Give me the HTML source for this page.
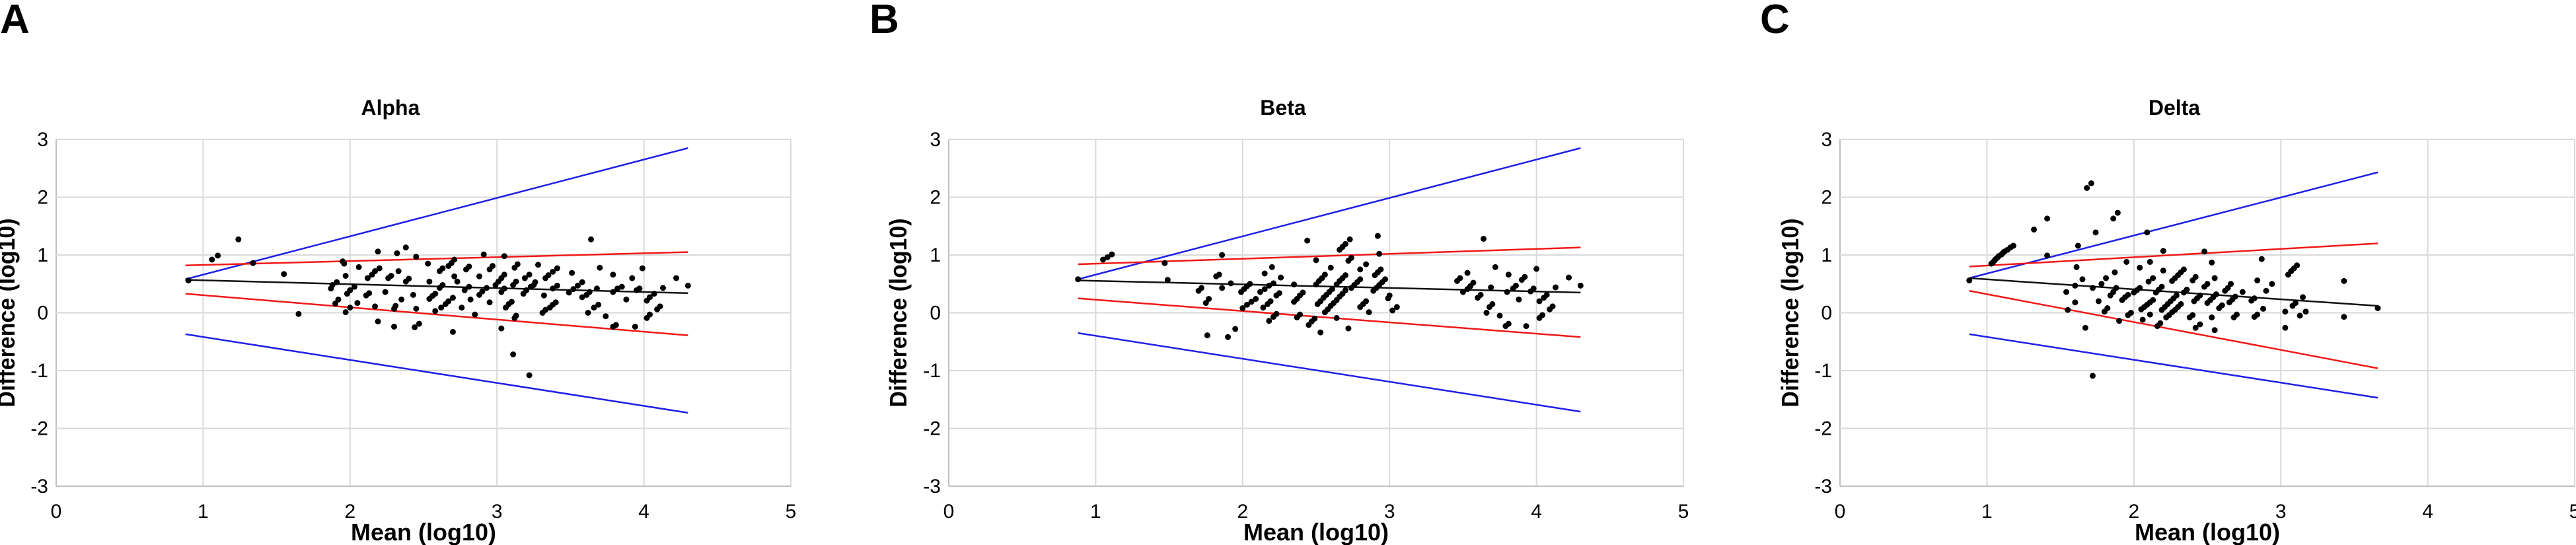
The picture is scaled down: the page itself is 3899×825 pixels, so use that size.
<!DOCTYPE html>
<html><head><meta charset="utf-8">
<style>
html,body{margin:0;padding:0;background:#fff;}
svg{display:block;}
text{font-family:"Liberation Sans Narrow","Liberation Sans",sans-serif;fill:#000;}
</style></head>
<body>
<svg id="chart" width="3899" height="825" viewBox="0 0 3899 825" xmlns="http://www.w3.org/2000/svg"></svg>
<script>
const xTicks = [0,1,2,3,4,5];
const yTicks = [-3,-2,-1,0,1,2,3];
const panelLetters = ["A","B","C"];
const panelTitles = ["Alpha","Beta","Delta"];
// regression lines: [x0, x1, y0, y1]
const alphaLines = {blueUp:[0.88,4.3,0.58,2.85],blueLow:[0.88,4.3,-0.37,-1.73],redUp:[0.88,4.3,0.82,1.05],redLow:[0.88,4.3,0.33,-0.39],mean:[0.88,4.3,0.57,0.34]};
const betaLines = {blueUp:[0.88,4.3,0.58,2.85],blueLow:[0.88,4.3,-0.35,-1.71],redUp:[0.88,4.3,0.84,1.13],redLow:[0.88,4.3,0.25,-0.42],mean:[0.88,4.3,0.56,0.35]};
const deltaLines = {blueUp:[0.88,3.66,0.6,2.43],blueLow:[0.88,3.66,-0.37,-1.47],redUp:[0.88,3.66,0.8,1.2],redLow:[0.88,3.66,0.38,-0.96],mean:[0.88,3.66,0.6,0.12]};
const alphaPoints = [[0.90,0.56],[1.06,0.92],[1.10,0.99],[1.24,1.27],[1.34,0.86],[1.55,0.67],[1.65,-0.02],[1.87,0.42],[1.88,0.48],[1.91,0.53],[1.95,0.89],[1.96,0.85],[1.90,0.16],[1.92,0.23],[1.97,0.01],[2.00,0.09],[1.97,0.64],[1.98,0.33],[2.00,0.39],[2.03,0.45],[2.05,0.17],[2.06,0.79],[2.11,0.30],[2.13,0.34],[2.12,0.60],[2.15,0.66],[2.17,0.72],[2.20,0.77],[2.17,0.11],[2.19,-0.15],[2.19,1.06],[2.24,0.36],[2.26,0.60],[2.28,0.64],[2.30,-0.24],[2.30,0.07],[2.31,0.12],[2.32,1.03],[2.33,0.72],[2.35,0.23],[2.38,1.13],[2.38,0.54],[2.40,0.59],[2.43,0.31],[2.44,-0.25],[2.47,-0.19],[2.45,0.97],[2.45,0.07],[2.53,0.85],[2.54,0.24],[2.56,0.29],[2.58,0.33],[2.54,0.54],[2.58,0.03],[2.61,0.43],[2.63,0.48],[2.61,0.72],[2.63,0.77],[2.62,0.09],[2.65,0.15],[2.67,0.20],[2.70,0.26],[2.67,0.81],[2.69,0.86],[2.71,0.92],[2.70,-0.33],[2.71,0.63],[2.73,0.54],[2.76,0.09],[2.78,0.39],[2.81,0.45],[2.79,0.75],[2.81,0.80],[2.82,0.23],[2.85,-0.03],[2.88,0.63],[2.88,0.31],[2.90,0.37],[2.93,0.43],[2.91,1.01],[2.95,0.18],[2.95,0.75],[2.97,0.81],[2.99,0.48],[3.01,0.54],[3.03,0.60],[3.05,0.66],[3.03,-0.27],[3.03,0.36],[3.05,0.42],[3.05,0.98],[3.06,0.09],[3.08,0.15],[3.10,0.19],[3.11,0.48],[3.13,0.54],[3.11,-0.72],[3.12,-0.09],[3.13,-0.05],[3.12,0.78],[3.14,0.84],[3.18,0.33],[3.20,0.39],[3.23,0.45],[3.19,0.60],[3.22,0.66],[3.22,-1.08],[3.25,0.48],[3.26,0.53],[3.28,0.83],[3.31,0.00],[3.33,0.05],[3.32,0.30],[3.33,0.60],[3.35,0.65],[3.38,0.71],[3.41,0.77],[3.36,0.09],[3.38,0.14],[3.40,0.18],[3.38,0.42],[3.41,0.47],[3.49,0.35],[3.52,0.41],[3.55,0.47],[3.58,0.53],[3.51,0.69],[3.58,0.27],[3.61,0.31],[3.63,0.36],[3.62,0.00],[3.64,1.27],[3.66,0.09],[3.69,0.14],[3.68,0.42],[3.70,0.78],[3.74,-0.06],[3.79,0.36],[3.82,0.42],[3.79,0.66],[3.79,-0.24],[3.81,-0.21],[3.85,0.45],[3.88,0.23],[3.92,0.60],[3.94,-0.24],[3.95,0.39],[3.97,0.42],[3.99,0.77],[4.02,-0.09],[4.04,-0.03],[4.02,0.21],[4.04,0.27],[4.07,0.33],[4.09,0.06],[4.11,0.11],[4.13,0.43],[4.22,0.60],[4.30,0.47]];
const betaPoints = [[0.88,0.58],[1.05,0.92],[1.08,0.96],[1.11,1.01],[1.47,0.86],[1.49,0.57],[1.70,0.38],[1.72,0.43],[1.75,0.17],[1.77,0.24],[1.76,-0.39],[1.82,0.63],[1.84,0.66],[1.86,1.00],[1.86,0.43],[1.90,-0.42],[1.92,0.51],[1.95,-0.28],[1.99,0.36],[2.01,0.41],[2.03,0.46],[2.05,0.50],[2.00,0.08],[2.03,0.14],[2.06,0.19],[2.09,0.24],[2.12,0.36],[2.15,0.41],[2.18,0.47],[2.21,0.51],[2.15,0.68],[2.20,0.79],[2.14,0.09],[2.17,0.15],[2.19,0.20],[2.18,-0.14],[2.21,-0.07],[2.23,-0.02],[2.23,0.30],[2.25,0.34],[2.26,0.61],[2.35,0.49],[2.35,0.19],[2.37,0.24],[2.39,0.30],[2.41,0.35],[2.37,-0.08],[2.39,-0.03],[2.44,1.25],[2.45,-0.21],[2.47,-0.15],[2.49,-0.10],[2.50,0.91],[2.51,0.15],[2.53,0.20],[2.50,0.49],[2.52,0.55],[2.54,0.60],[2.56,0.66],[2.53,-0.34],[2.55,0.26],[2.57,0.31],[2.59,0.36],[2.61,0.41],[2.56,0.01],[2.58,0.06],[2.60,0.12],[2.62,0.17],[2.64,0.22],[2.66,0.28],[2.68,0.33],[2.70,0.39],[2.60,0.78],[2.66,1.09],[2.68,1.14],[2.70,1.19],[2.73,1.27],[2.64,-0.09],[2.64,0.49],[2.66,0.55],[2.68,0.60],[2.70,0.65],[2.72,0.90],[2.74,0.95],[2.72,-0.27],[2.74,0.43],[2.76,0.48],[2.78,0.53],[2.80,0.58],[2.80,0.75],[2.84,0.84],[2.80,0.10],[2.82,0.15],[2.84,0.20],[2.86,0.01],[2.89,0.38],[2.91,0.43],[2.93,0.48],[2.95,0.53],[2.97,0.58],[2.90,0.65],[2.92,0.70],[2.94,0.75],[2.92,1.33],[2.93,1.02],[2.99,0.25],[3.00,0.30],[3.02,0.04],[3.05,0.10],[3.46,0.55],[3.48,0.60],[3.50,0.36],[3.53,0.41],[3.55,0.46],[3.57,0.52],[3.53,0.69],[3.60,0.26],[3.62,0.31],[3.64,1.28],[3.66,0.00],[3.68,0.10],[3.70,0.15],[3.69,0.44],[3.72,0.79],[3.75,-0.05],[3.80,0.36],[3.81,0.66],[3.79,-0.23],[3.81,-0.19],[3.84,0.42],[3.86,0.47],[3.88,0.23],[3.90,0.57],[3.92,0.62],[3.93,-0.23],[3.96,0.37],[3.98,0.42],[4.00,0.76],[4.02,0.20],[4.05,0.26],[4.07,0.31],[4.02,-0.09],[4.04,-0.04],[4.09,0.06],[4.11,0.11],[4.13,0.44],[4.22,0.61],[4.30,0.47]];
const deltaPoints = [[0.88,0.56],[1.03,0.85],[1.04,0.87],[1.05,0.90],[1.06,0.93],[1.07,0.95],[1.08,0.98],[1.10,1.01],[1.11,1.04],[1.12,1.06],[1.14,1.09],[1.16,1.13],[1.18,1.16],[1.32,1.44],[1.41,1.63],[1.41,0.99],[1.54,0.36],[1.55,0.05],[1.60,0.47],[1.61,0.79],[1.62,1.16],[1.60,0.18],[1.65,0.58],[1.67,-0.26],[1.68,2.16],[1.71,2.24],[1.72,0.43],[1.74,1.39],[1.72,-1.09],[1.76,0.20],[1.78,0.50],[1.81,0.60],[1.80,0.02],[1.82,0.08],[1.84,0.30],[1.86,0.36],[1.87,0.70],[1.86,1.63],[1.89,1.73],[1.88,0.43],[1.90,-0.14],[1.92,0.22],[1.94,0.27],[1.96,0.31],[1.95,0.88],[1.96,-0.04],[1.98,0.00],[2.00,0.35],[2.02,0.39],[2.04,0.43],[2.04,0.78],[2.05,0.06],[2.07,0.10],[2.09,0.14],[2.11,0.18],[2.13,0.22],[2.06,-0.12],[2.09,1.39],[2.10,0.54],[2.11,0.88],[2.11,-0.03],[2.13,0.60],[2.15,0.35],[2.17,0.40],[2.19,0.45],[2.20,0.73],[2.20,1.07],[2.16,-0.23],[2.18,-0.18],[2.19,0.05],[2.21,0.10],[2.23,0.15],[2.25,0.20],[2.27,0.25],[2.29,0.30],[2.22,-0.08],[2.24,-0.04],[2.26,0.01],[2.28,0.05],[2.30,0.10],[2.32,0.15],[2.26,0.55],[2.28,0.60],[2.30,0.65],[2.32,0.70],[2.34,0.75],[2.34,0.35],[2.36,0.40],[2.38,-0.08],[2.40,-0.04],[2.41,0.20],[2.43,0.25],[2.45,0.30],[2.40,0.56],[2.42,0.62],[2.42,-0.26],[2.45,-0.20],[2.48,0.45],[2.50,0.50],[2.48,1.06],[2.50,0.17],[2.52,0.22],[2.54,0.27],[2.56,0.32],[2.53,0.87],[2.55,0.60],[2.55,-0.30],[2.53,-0.08],[2.58,0.08],[2.60,0.13],[2.62,0.38],[2.64,0.43],[2.66,0.50],[2.65,0.18],[2.67,0.23],[2.69,0.28],[2.68,-0.08],[2.70,-0.03],[2.74,0.36],[2.80,0.21],[2.82,0.25],[2.82,-0.07],[2.84,-0.03],[2.84,0.56],[2.87,0.93],[2.88,0.07],[2.90,0.38],[2.94,0.50],[3.03,0.02],[3.03,-0.26],[3.05,0.66],[3.07,0.72],[3.09,0.77],[3.11,0.82],[3.08,0.12],[3.10,0.17],[3.13,-0.05],[3.15,0.27],[3.17,0.02],[3.43,0.55],[3.43,-0.07],[3.66,0.08]];

const NS = "http://www.w3.org/2000/svg";
const svg = document.getElementById("chart");
function mk(tag, attrs, parent){ const e=document.createElementNS(NS,tag); for(const k in attrs) e.setAttribute(k,attrs[k]); parent.appendChild(e); return e; }

const panels = [
  {off:0, left:85, letterX:0, yTitleX:22, lines:alphaLines, pts:alphaPoints, key:"alpha"},
  {off:1300, left:1436, letterX:1316, yTitleX:1372, lines:betaLines, pts:betaPoints, key:"beta"},
  {off:2600, left:2785, letterX:2664, yTitleX:2722, lines:deltaLines, pts:deltaPoints, key:"delta"}
];
const PW = 1112, TOP = 211, BOT = 736;

panels.forEach((p, i) => {
  const g = mk("g", {}, svg);
  
  
  const xs = v => p.left + v / 5 * PW;
  const ys = v => BOT - (v + 3) / 6 * (BOT - TOP);

  xTicks.forEach(t => {
    const l = mk("line", {x1:xs(t), x2:xs(t), y1:TOP, y2:BOT, stroke: t===0 ? "#bfbfbf" : "#d9d9d9", "stroke-width":2}, g);
    
    
    const tx = mk("text", {x:xs(t), y:784, "font-size":30, "text-anchor":"middle"}, g);
    tx.textContent = t;
    
    
  });
  yTicks.forEach(t => {
    const l = mk("line", {x1:p.left, x2:p.left+PW, y1:ys(t), y2:ys(t), stroke: t===-3 ? "#bfbfbf" : "#d9d9d9", "stroke-width":2}, g);
    
    
    const tx = mk("text", {x:p.left-12, y:ys(t)+10, "font-size":30, "text-anchor":"end"}, g);
    tx.textContent = t;
    
    
  });

  const colors = {blueUp:"#1f1fe6", blueLow:"#1f1fe6", redUp:"#f01818", redLow:"#f01818", mean:"#111"};
  Object.keys(p.lines).forEach(k => {
    const a = p.lines[k];
    const l = mk("line", {x1:xs(a[0]), x2:xs(a[1]), y1:ys(a[2]), y2:ys(a[3]), stroke:colors[k], "stroke-width":2.5}, g);
    
    
  });

  p.pts.forEach(pt => {
    const c = mk("circle", {cx:xs(pt[0]), cy:ys(pt[1]), r:4.5, fill:"#000"}, g);
    
    
  });

  const letter = mk("text", {x:p.letterX, y:50, "font-size":62, "font-weight":"bold"}, g);
  letter.textContent = panelLetters[i];
  
  

  const title = mk("text", {x:p.left + PW*0.455, y:174, "font-size":32, "font-weight":"bold", "text-anchor":"middle"}, g);
  title.textContent = panelTitles[i];
  
  

  const xt = mk("text", {x:p.left + PW*0.5, y:818, "font-size":36, "font-weight":"bold", "text-anchor":"middle"}, g);
  xt.textContent = "Mean (log10)";
  
  

  const yt = mk("text", {x:0, y:0, "font-size":36, "font-weight":"bold", "text-anchor":"middle", "font-family":"Liberation Sans, sans-serif", transform:`translate(${p.yTitleX},${ys(0)}) rotate(-90)`, textLength:286, lengthAdjust:"spacingAndGlyphs"}, g);
  yt.textContent = "Difference (log10)";
  
  
});
</script>
</body></html>
